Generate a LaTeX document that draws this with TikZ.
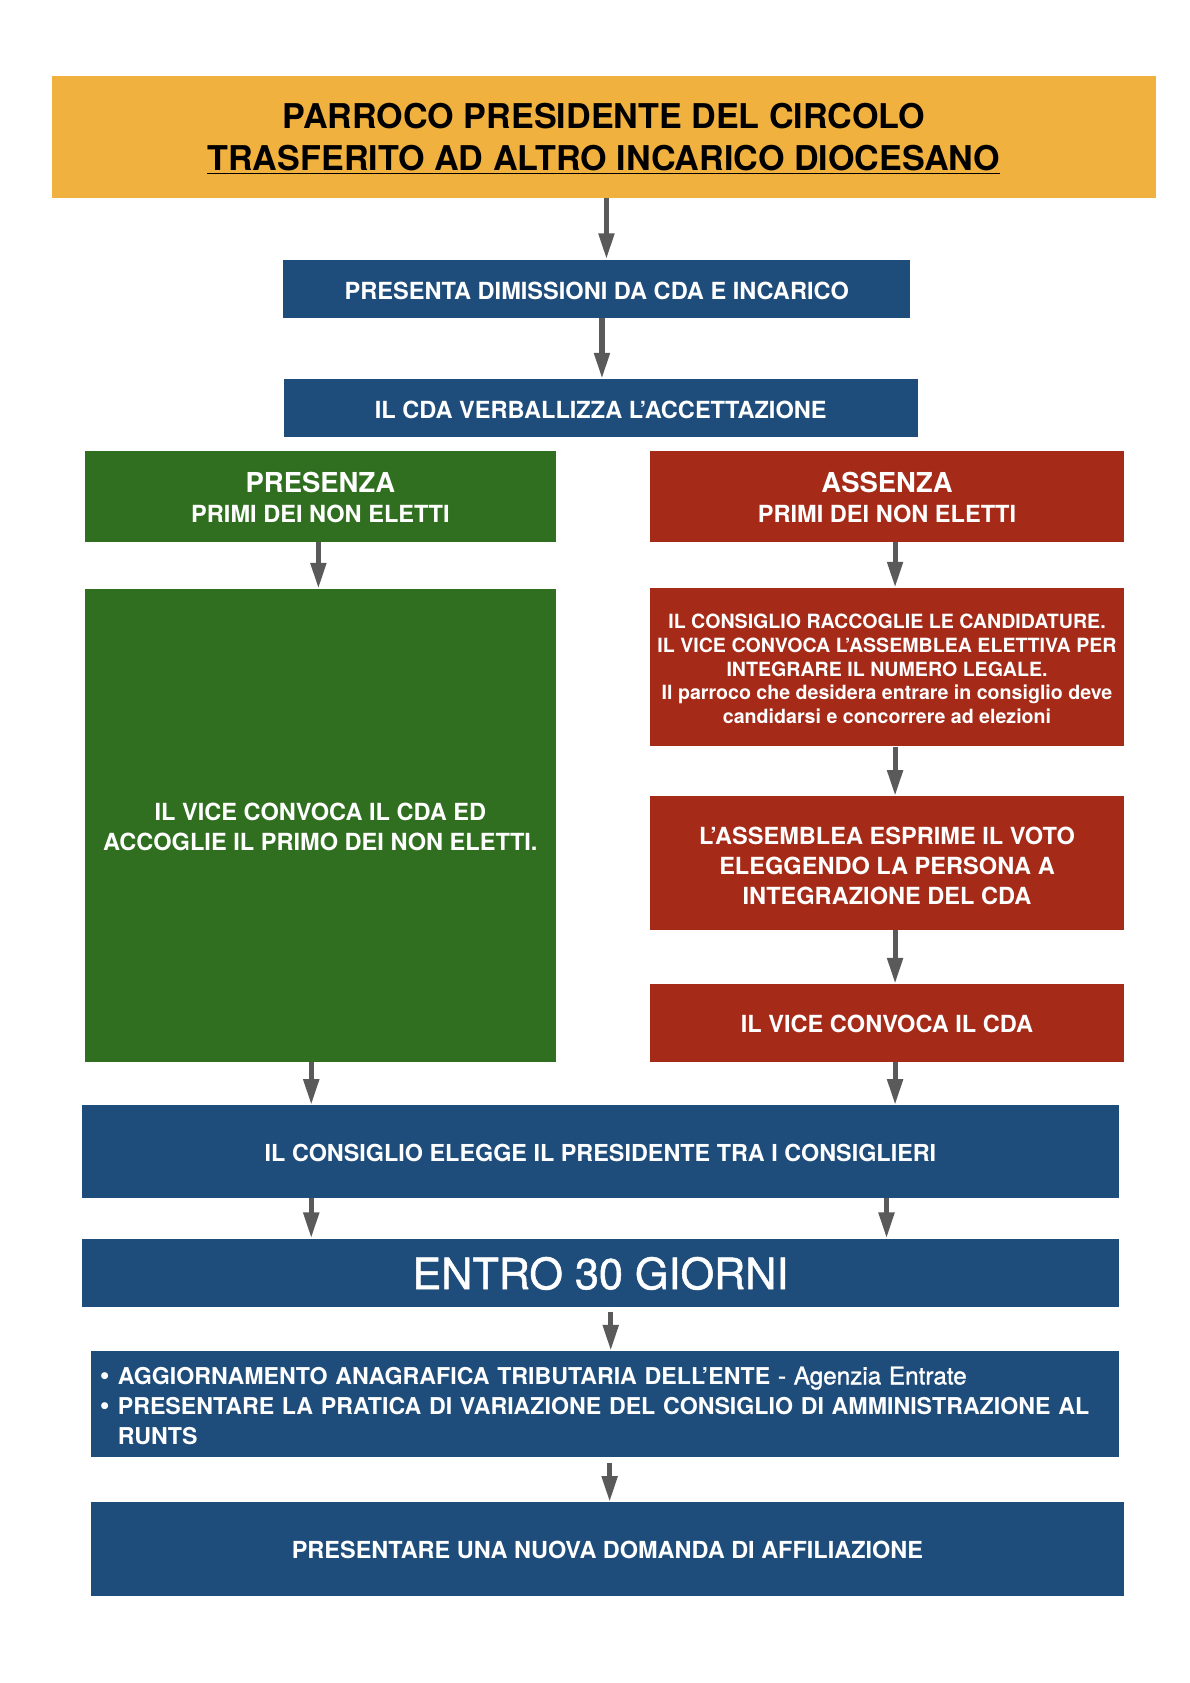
\documentclass[tikz,border=0pt]{standalone}
\usepackage{fontspec}
\setmainfont{TeX Gyre Heros}
\newfontfamily\medfont[FakeBold=1.2]{TeX Gyre Heros}
\usetikzlibrary{arrows.meta,calc}
\definecolor{orangeT}{HTML}{F1B13F}
\definecolor{blueB}{HTML}{1F4D7B}
\definecolor{greenB}{HTML}{306F20}
\definecolor{redB}{HTML}{A52A18}
\definecolor{arrG}{HTML}{5A5A5A}
\tikzset{
  box/.style={draw=none, inner sep=2pt, text=white, align=center,
    font=\bfseries\fontsize{11.85}{15}\selectfont},
  bluebox/.style={box, fill=blueB},
  greenbox/.style={box, fill=greenB},
  redbox/.style={box, fill=redB},
  arr/.style={draw=arrG, line width=2.6pt, -{Triangle[length=13pt,width=7.5pt]}}
}
\newcommand{\st}[1]{\rule{0pt}{#1}}
\newcommand{\bul}{\makebox[9pt][l]{\raisebox{-0.3pt}{\fontsize{14}{15}\selectfont •}}}
\begin{document}
\begin{tikzpicture}[x=0.5pt,y=-0.5pt]
\useasboundingbox[fill=white] (0,0) rectangle (1196,1691.5);

\node[box, fill=orangeT, text=black, minimum width=555pt, minimum height=61pt,
  font=\bfseries\fontsize{17.15}{21}\selectfont] (title) at (607,137.5)
  {\st{15pt}PARROCO PRESIDENTE DEL CIRCOLO\\\underline{TRASFERITO AD ALTRO INCARICO DIOCESANO}};

\node[bluebox, minimum width=315pt, minimum height=29.25pt] (b1) at (599.8,290.2)
  {\st{10.6pt}PRESENTA DIMISSIONI DA CDA E INCARICO};
\node[bluebox, minimum width=318.5pt, minimum height=28.9pt] (b2) at (603.8,409.9)
  {\st{11.3pt}IL CDA VERBALLIZZA L’ACCETTAZIONE};

\node[greenbox, minimum width=236.8pt, minimum height=45.9pt] (g1) at (322,498.9)
  {\st{11.4pt}{\fontsize{13.8}{16}\selectfont PRESENZA}\\PRIMI DEI NON ELETTI};
\node[redbox, minimum width=237.85pt, minimum height=45.9pt] (r1) at (891.5,498.9)
  {\st{11.4pt}{\fontsize{13.8}{16}\selectfont ASSENZA}\\PRIMI DEI NON ELETTI};

\node[greenbox, minimum width=236.8pt, minimum height=237.4pt] (g2) at (322,829.5)
  {\st{10.6pt}IL VICE CONVOCA IL CDA ED\\ACCOGLIE IL PRIMO DEI NON ELETTI.};

\node[redbox, minimum width=237.85pt, minimum height=79.5pt,
  font=\bfseries\fontsize{9.85}{11.95}\selectfont] (r2) at (891.5,670.5)
  {\st{9.2pt}IL CONSIGLIO RACCOGLIE LE CANDIDATURE.\\IL VICE CONVOCA L’ASSEMBLEA ELETTIVA PER\\INTEGRARE IL NUMERO LEGALE.\\Il parroco che desidera entrare in consiglio deve\\candidarsi e concorrere ad elezioni};
\node[redbox, minimum width=237.85pt, minimum height=66.9pt] (r3) at (891.5,867.3)
  {\st{11.6pt}L’ASSEMBLEA ESPRIME IL VOTO\\ELEGGENDO LA PERSONA A\\INTEGRAZIONE DEL CDA};
\node[redbox, minimum width=237.85pt, minimum height=38.85pt] (r4) at (891.5,1028)
  {\st{9.6pt}IL VICE CONVOCA IL CDA};

\node[bluebox, minimum width=521.5pt, minimum height=46.5pt,
  font=\bfseries\fontsize{11.75}{15}\selectfont] (el) at (603.5,1157.5)
  {\st{9.6pt}IL CONSIGLIO ELEGGE IL PRESIDENTE TRA I CONSIGLIERI};
\node[bluebox, minimum width=521.5pt, minimum height=34.5pt,
  font=\medfont\mdseries\fontsize{21.7}{24}\selectfont] (en) at (603.5,1279.5)
  {\st{16.6pt}ENTRO 30 GIORNI};

\node[bluebox, minimum width=516.65pt, minimum height=53pt, align=left,
  text width=508pt, inner sep=4pt, font=\bfseries\fontsize{11.65}{15}\selectfont] (bl) at (608.4,1411)
  {\st{10.5pt}\bul AGGIORNAMENTO ANAGRAFICA TRIBUTARIA DELL’ENTE {\medfont\mdseries\fontsize{12.2}{15}\selectfont - Agenzia Entrate}\\
   \bul PRESENTARE LA PRATICA DI VARIAZIONE DEL CONSIGLIO DI AMMINISTRAZIONE AL\\
   \hspace*{9pt}RUNTS};
\node[bluebox, minimum width=518.85pt, minimum height=47pt,
  font=\bfseries\fontsize{11.8}{15}\selectfont] (la) at (610.5,1557)
  {\st{9.6pt}PRESENTARE UNA NUOVA DOMANDA DI AFFILIAZIONE};

\coordinate (xa) at (609.5,0);
\coordinate (xb) at (605,0);
\coordinate (xg) at (320,0);
\coordinate (xr) at (899.6,0);
\coordinate (xl) at (312.8,0);
\coordinate (xq) at (891,0);
\coordinate (xe) at (613.8,0);
\coordinate (xf) at (612.7,0);

\draw[arr] (title.south -| xa) -- (b1.north -| xa);
\draw[arr] (b1.south -| xb) -- (b2.north -| xb);
\draw[arr] (g1.south -| xg) -- (g2.north -| xg);
\draw[arr] (r1.south -| xr) -- (r2.north -| xr);
\draw[arr] (r2.south -| xr) -- (r3.north -| xr);
\draw[arr] (r3.south -| xr) -- (r4.north -| xr);
\draw[arr] (g2.south -| xl) -- (el.north -| xl);
\draw[arr] (r4.south -| xr) -- (el.north -| xr);
\draw[arr] (el.south -| xl) -- (en.north -| xl);
\draw[arr] (el.south -| xq) -- (en.north -| xq);
\draw[arr, shorten <=2pt] (en.south -| xe) -- (bl.north -| xe);
\draw[arr, shorten <=3pt] (bl.south -| xf) -- (la.north -| xf);
\end{tikzpicture}
\end{document}
